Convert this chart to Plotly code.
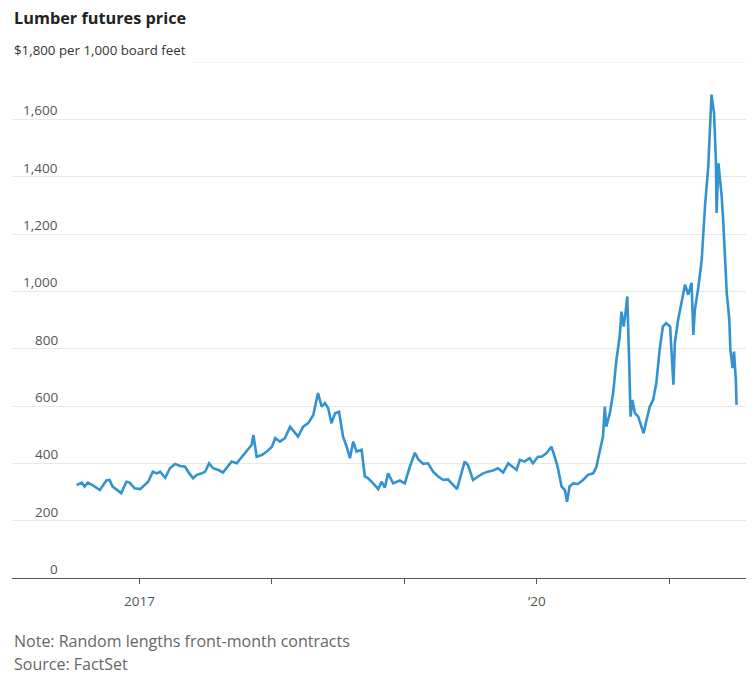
import plotly.graph_objects as go

# ---- data ----
dates = [
    "2016-07-12", "2016-07-26", "2016-08-03", "2016-08-12", "2016-08-25", "2016-09-14",
    "2016-10-02", "2016-10-11", "2016-10-19", "2016-11-02", "2016-11-12", "2016-11-26",
    "2016-12-05", "2016-12-19", "2017-01-03", "2017-01-11", "2017-01-25", "2017-02-07",
    "2017-02-18", "2017-02-27", "2017-03-13", "2017-03-26", "2017-04-09", "2017-04-23",
    "2017-05-07", "2017-05-15", "2017-05-29", "2017-06-08", "2017-06-22", "2017-07-01",
    "2017-07-12", "2017-07-23", "2017-08-06", "2017-08-19", "2017-09-02", "2017-09-12",
    "2017-09-26", "2017-10-10", "2017-10-23", "2017-11-06", "2017-11-11", "2017-11-20",
    "2017-12-04", "2017-12-18", "2018-01-01", "2018-01-10", "2018-01-23", "2018-02-06",
    "2018-02-20", "2018-03-05", "2018-03-14", "2018-03-28", "2018-04-11", "2018-04-25",
    "2018-05-08", "2018-05-18", "2018-05-27", "2018-06-05", "2018-06-14", "2018-06-24",
    "2018-07-05", "2018-07-16", "2018-07-26", "2018-08-04", "2018-08-13", "2018-08-22",
    "2018-09-05", "2018-09-14", "2018-09-23", "2018-10-07", "2018-10-21", "2018-10-30",
    "2018-11-08", "2018-11-17", "2018-12-01", "2018-12-19", "2019-01-02", "2019-01-16",
    "2019-01-30", "2019-02-08", "2019-02-22", "2019-03-07", "2019-03-21", "2019-04-04",
    "2019-04-18", "2019-05-01", "2019-05-15", "2019-05-26", "2019-06-07", "2019-06-16",
    "2019-06-25", "2019-07-09", "2019-07-23", "2019-08-06", "2019-08-19", "2019-09-02",
    "2019-09-16", "2019-09-30", "2019-10-14", "2019-10-27", "2019-11-06", "2019-11-15",
    "2019-11-28", "2019-12-12", "2019-12-21", "2020-01-04", "2020-01-14", "2020-01-27",
    "2020-02-10", "2020-02-19", "2020-02-28", "2020-03-09", "2020-03-18", "2020-03-24",
    "2020-03-31", "2020-04-10", "2020-04-23", "2020-05-07", "2020-05-21", "2020-06-04",
    "2020-06-13", "2020-06-22", "2020-07-01", "2020-07-06", "2020-07-10", "2020-07-20",
    "2020-07-29", "2020-08-07", "2020-08-16", "2020-08-21", "2020-08-27", "2020-09-02",
    "2020-09-06", "2020-09-11", "2020-09-15", "2020-09-20", "2020-09-27", "2020-10-06",
    "2020-10-15", "2020-10-21", "2020-10-29", "2020-11-07", "2020-11-16", "2020-11-25",
    "2020-12-04", "2020-12-13", "2020-12-22", "2021-01-02", "2021-01-11", "2021-01-15",
    "2021-01-24", "2021-02-03", "2021-02-12", "2021-02-21", "2021-03-02", "2021-03-07",
    "2021-03-11", "2021-03-21", "2021-03-30", "2021-04-08", "2021-04-17", "2021-04-26",
    "2021-05-03", "2021-05-08", "2021-05-10", "2021-05-15", "2021-05-24", "2021-05-28",
    "2021-06-07", "2021-06-14", "2021-06-17", "2021-06-23", "2021-06-27", "2021-07-02",
    "2021-07-04",
]
prices = [
    324, 333, 319, 333, 324, 307,
    340, 342, 319, 307, 296, 336,
    333, 313, 310, 319, 336, 371,
    365, 371, 349, 383, 398, 391,
    388, 371, 348, 360, 365, 371,
    400, 383, 377, 368, 388, 406,
    400, 423, 441, 464, 499, 423,
    429, 441, 458, 488, 476, 488,
    528, 505, 493, 528, 540, 569,
    645, 598, 610, 592, 540, 575,
    580, 493, 458, 418, 476, 441,
    447, 354, 348, 330, 310, 336,
    315, 365, 330, 340, 330, 388,
    437, 414, 398, 400, 371, 354,
    342, 344, 324, 310, 365, 406,
    394, 342, 354, 365, 371, 375,
    383, 368, 400, 388, 377, 412,
    406, 418, 400, 423, 423, 435,
    458, 423, 383, 319, 307, 266,
    319, 330, 328, 342, 360, 365,
    388, 441, 493, 598, 528, 575,
    645, 761, 842, 929, 877, 935,
    982, 761, 563, 621, 575, 563,
    528, 505, 551, 598, 621, 680,
    796, 877, 889, 877, 674, 819,
    901, 970, 1023, 988, 1030, 848,
    935, 1017, 1110, 1296, 1436, 1686,
    1622, 1459, 1273, 1447, 1331, 1250,
    994, 901, 796, 732, 790, 691,
    604,
]

y_ticks = [0, 200, 400, 600, 800, 1000, 1200, 1400, 1600]
y_tick_labels = ["0", "200", "400", "600", "800", "1,000", "1,200", "1,400", "1,600"]
x_ticks = ["2017-01-01", "2018-01-01", "2019-01-01", "2020-01-01", "2021-01-01"]
x_tick_labels = ["2017", "", "", "\u201920", ""]

title = "Lumber futures price"
subtitle = "$1,800 per 1,000 board feet"
note = "Note: Random lengths front-month contracts"
source = "Source: FactSet"

FONT = "Open Sans"

fig = go.Figure()
fig.add_trace(go.Scatter(
    x=dates, y=prices, mode="lines",
    line=dict(color="#3592d0", width=2.6),
    hoverinfo="skip", showlegend=False,
))

# the page body adds an 8px offset, so the figure is 8px smaller on each side
fig.update_layout(
    width=748, height=671,
    margin=dict(l=4, r=10, t=54, b=101),
    paper_bgcolor="white", plot_bgcolor="white",
    font=dict(family=FONT, color="#555"),
    xaxis=dict(
        type="date", range=["2016-01-16", "2021-07-30"],
        tickvals=x_ticks, ticktext=x_tick_labels,
        ticks="outside", ticklen=5, tickcolor="#555", tickwidth=1,
        ticklabelstandoff=6,
        showline=True, linecolor="#555", linewidth=1,
        showgrid=False, zeroline=False,
        tickfont=dict(size=13.5, color="#555", family=FONT),
        fixedrange=True,
    ),
    yaxis=dict(
        range=[0, 1800], tickvals=y_ticks, showticklabels=False,
        showgrid=True, gridcolor="#e8e8e8", gridwidth=1,
        zeroline=False, showline=False, fixedrange=True,
    ),
)

# top (1,800) rule that follows the subtitle
fig.add_shape(type="line", xref="paper", yref="y", x0=0.2466, x1=1, y0=1800, y1=1800,
              line=dict(color="#e8e8e8", width=1))

# y tick labels, right-aligned, sitting on top of the gridlines
for v, lab in zip(y_ticks, y_tick_labels):
    fig.add_annotation(x=0.0654, y=v, xref="paper", yref="y", text=lab,
                       xanchor="right", yanchor="bottom", yshift=-2, showarrow=False,
                       font=dict(size=13.5, color="#555", family=FONT))

fig.add_annotation(x=0, y=1, xref="paper", yref="paper", text="<b>" + title + "</b>",
                   xanchor="left", yanchor="bottom", yshift=31, showarrow=False,
                   font=dict(size=16.3, color="#222", family=FONT))
fig.add_annotation(x=0, y=1, xref="paper", yref="paper", text=subtitle,
                   xanchor="left", yanchor="bottom", yshift=1, showarrow=False,
                   font=dict(size=13.3, color="#333", family=FONT))
fig.add_annotation(x=0, y=0, xref="paper", yref="paper", text=note,
                   xanchor="left", yanchor="middle", yshift=-63, showarrow=False,
                   font=dict(size=16, color="#666", family=FONT))
fig.add_annotation(x=0, y=0, xref="paper", yref="paper", text=source,
                   xanchor="left", yanchor="middle", yshift=-86, showarrow=False,
                   font=dict(size=16, color="#666", family=FONT))

fig.write_html("out.html")
